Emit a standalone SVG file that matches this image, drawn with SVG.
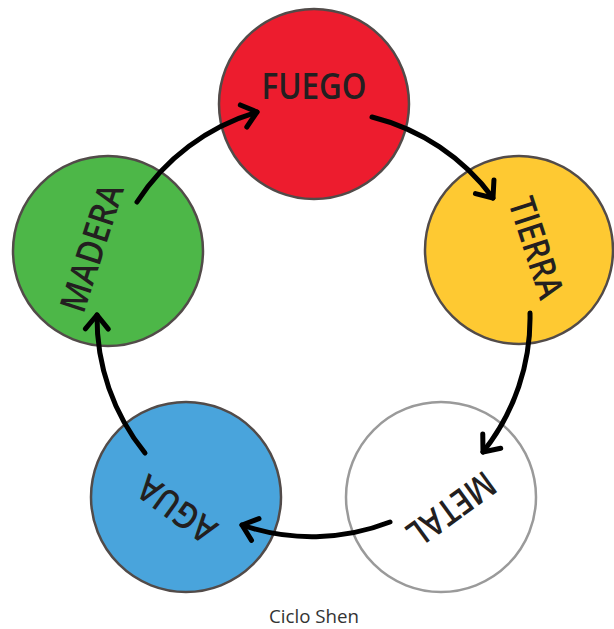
<svg xmlns="http://www.w3.org/2000/svg" width="614" height="629" viewBox="0 0 614 629">
<style>
.node{stroke:#524b49;stroke-width:2.5}
.lbl{font-family:"Open Sans","Liberation Sans",sans-serif;font-weight:600;font-size:36px;fill:#231f20;text-anchor:middle}
.arr{fill:none;stroke:#000;stroke-width:5;stroke-linecap:round;marker-end:url(#chev)}
.cap{font-family:"Open Sans","Liberation Sans",sans-serif;font-size:18px;fill:#333;text-anchor:middle}
</style>
<defs>
<marker id="chev" markerUnits="userSpaceOnUse" markerWidth="40" markerHeight="40" refX="0" refY="0" orient="auto" overflow="visible">
<path d="M -14 -11.5 L 0 0 L -14 11.5" fill="none" stroke="#000" stroke-width="5" stroke-linecap="round" stroke-linejoin="round"/>
</marker>
</defs>
<rect width="614" height="629" fill="#fff"/>
<g id="fuego">
<circle class="node" cx="314" cy="104" r="95" fill="#ed1c2e"/>
<text class="lbl" x="314" y="99" textLength="105" lengthAdjust="spacingAndGlyphs">FUEGO</text>
</g>
<g id="tierra">
<circle class="node" cx="519" cy="250" r="94" fill="#fec932"/>
<text class="lbl" x="314" y="99" textLength="104" lengthAdjust="spacingAndGlyphs" transform="rotate(72 314 320)">TIERRA</text>
</g>
<g id="metal">
<circle cx="441" cy="497" r="95" fill="#fff" stroke="#9a9a9a" stroke-width="2.5"/>
<text class="lbl" x="314" y="99" textLength="100" lengthAdjust="spacingAndGlyphs" transform="rotate(144 314 320)">METAL</text>
</g>
<g id="agua">
<circle class="node" cx="186" cy="497" r="95" fill="#49a4dc"/>
<text class="lbl" x="314" y="99" textLength="88" lengthAdjust="spacingAndGlyphs" transform="rotate(216 314 320)">AGUA</text>
</g>
<g id="madera">
<circle class="node" cx="108" cy="251" r="95" fill="#4db748"/>
<text class="lbl" x="314" y="99" textLength="132" lengthAdjust="spacingAndGlyphs" transform="rotate(288 314 320)">MADERA</text>
</g>
<g id="connectors">
<path class="arr" d="M 372 117 A 215 215 0 0 1 493 198"/>
<path class="arr" d="M 530 313 A 215 215 0 0 1 483 452"/>
<path class="arr" d="M 390 522 A 215 215 0 0 1 242 525"/>
<path class="arr" d="M 145 453 A 215 215 0 0 1 97 315"/>
<path class="arr" d="M 137 202 A 215 215 0 0 1 257 112"/>
</g>
<text class="cap" x="314" y="623" textLength="90" lengthAdjust="spacingAndGlyphs">Ciclo Shen</text>
</svg>
